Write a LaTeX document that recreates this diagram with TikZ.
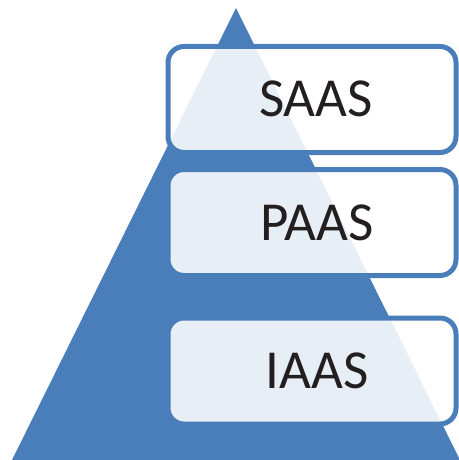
\documentclass[tikz,border=0pt]{standalone}
\usepackage{fontspec}
\setmainfont{Carlito}
\definecolor{pyrblue}{RGB}{74,126,187}
\definecolor{inkdark}{RGB}{35,31,32}
\tikzset{
    tier/.style={draw=pyrblue, line width=5pt, rounded corners=16pt, fill=white, fill opacity=0.87, minimum width=288pt, minimum height=106pt},
    tierlabel/.style={font=\fontsize{55}{60}\selectfont, text=inkdark}
}

\begin{document}
\begin{tikzpicture}[x=1pt, y=-1pt]
\useasboundingbox (0,0) rectangle (458,460);
\fill[pyrblue] (236,8) -- (460,460) -- (12,460) -- cycle;
\node[tier] (saas) at (312,99.5) {};
\node[tier] (paas) at (312,222.5) {};
\node[tier] (iaas) at (312,371) {};
\node[tierlabel] (saastext) at (316,99) {SAAS};
\node[tierlabel] (paastext) at (317,223) {PAAS};
\node[tierlabel] (iaastext) at (317,371) {IAAS};
\end{tikzpicture}
\end{document}
